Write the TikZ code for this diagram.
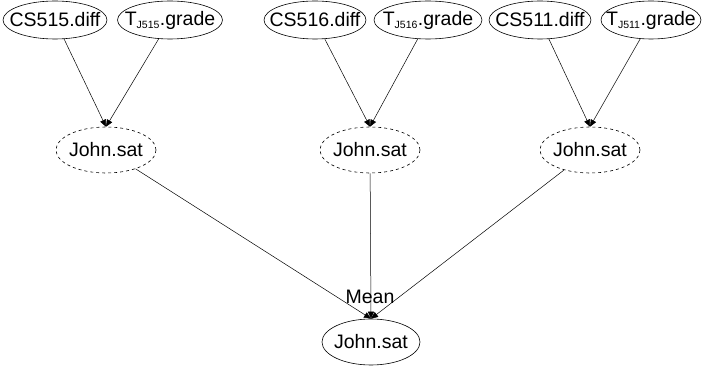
\documentclass[tikz,border=0pt]{standalone}
\usepackage{fontspec}
\setmainfont{Liberation Sans}
\usetikzlibrary{shapes.geometric,arrows.meta}
\begin{document}
\begin{tikzpicture}[x=1pt,y=-1pt,
  lbl/.style={font=\fontsize{19.5}{21}\selectfont},
  var/.style={ellipse,draw,line width=0.6pt,minimum height=38pt,inner sep=0pt,label={[lbl]center:#1}},
  hid/.style={var=#1,dashed,minimum width=100pt,minimum height=46pt},
  edge/.style={-{Triangle[length=7pt,width=6pt]},line width=0.5pt}]
\useasboundingbox (0,0) rectangle (702,366);
\newcommand{\tg}[1]{T\textsubscript{\fontsize{10.5}{11}\selectfont J#1}.grade}
% top row: course difficulties and teacher grades
\node[var=CS515.diff,minimum width=104pt] (d515) at (55,20) {};
\node[var={\tg{515}},minimum width=105pt] (g515) at (170,20) {};
\node[var=CS516.diff,minimum width=102pt] (d516) at (315,20) {};
\node[var={\tg{516}},minimum width=108pt] (g516) at (428,20) {};
\node[var=CS511.diff,minimum width=102pt] (d511) at (540,20) {};
\node[var={\tg{511}},minimum width=100pt] (g511) at (651,20) {};
% middle row: per-course satisfaction
\node[hid=John.sat] (s1) at (106,150) {};
\node[hid=John.sat] (s2) at (370,150) {};
\node[hid=John.sat] (s3) at (590,150) {};
% aggregated satisfaction
\node[var=John.sat,minimum width=98pt,minimum height=46pt] (s) at (371,342) {};
\node[lbl] (mean) at (370,297) {Mean};
\draw[edge] (d515) -- (s1.north);
\draw[edge] (g515) -- (s1.north);
\draw[edge] (d516) -- (s2.north);
\draw[edge] (g516) -- (s2.north);
\draw[edge] (d511) -- (s3.north);
\draw[edge] (g511) -- (s3.north);
\draw[edge] (s1) -- (s.north);
\draw[edge] (s2) -- (s.north);
\draw[edge] (s3) -- (s.north);
\end{tikzpicture}
\end{document}
